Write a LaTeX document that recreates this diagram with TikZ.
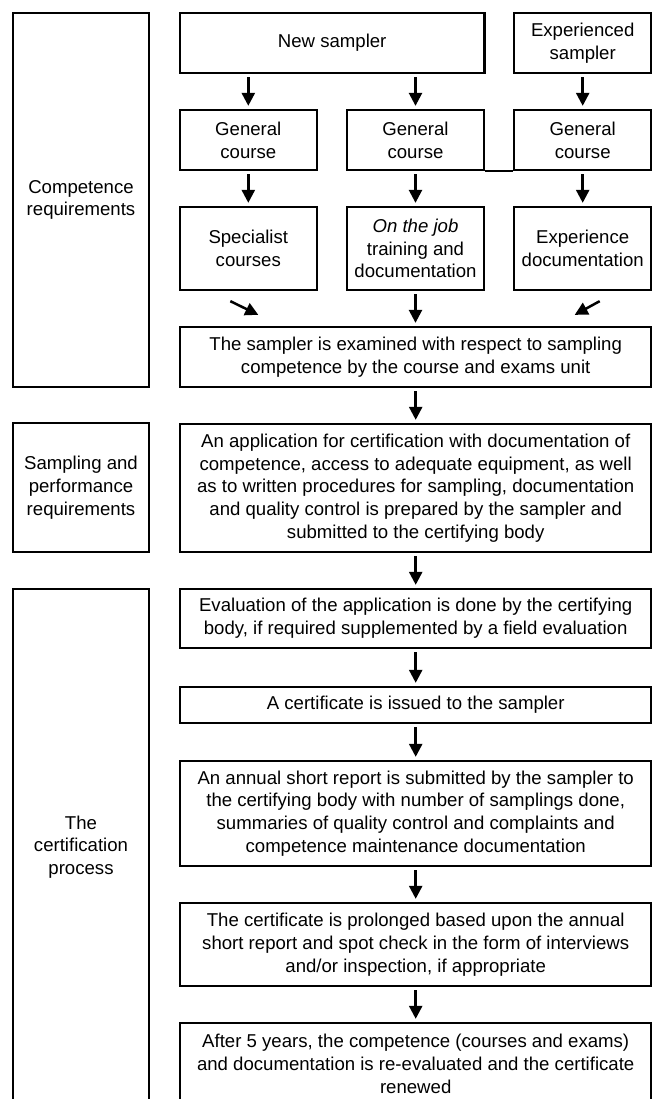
\documentclass[tikz,border=0pt]{standalone}
\usepackage{fontspec}
\setmainfont{Liberation Sans}
\usetikzlibrary{arrows.meta,calc}

\tikzset{
	box/.style={draw, line width=2.3pt, inner sep=0pt, align=center, font=\fontsize{18.6}{22.75}\selectfont},
	side/.style={box, minimum width=136.5pt},
	col/.style={box, minimum width=137pt},
	wide/.style={box, minimum width=471.5pt},
	arr/.style={line width=2.5pt, -{Triangle[width=13pt,length=13pt]}, shorten <=3pt, shorten >=3pt},
}

\begin{document}
\begin{tikzpicture}[x=1pt, y=-1pt]
		%%%%% START %%%%%
		\useasboundingbox (0, 0) rectangle (652, 1099);
		\clip (0, 0) rectangle (652, 1099);
		
		% left column
		\node[side, minimum height=374pt] (comp) at (81, 200) {Competence\\requirements};
		\node[side, minimum height=129pt] (samp) at (81, 487.5) {Sampling and\\performance\\requirements};
		\node[side, minimum height=516pt] (certp) at (81, 847) {The\\certification\\process};
		
		% top part
		\node[box, minimum width=304.5pt, minimum height=60pt] (new) at (332.2, 43) {New sampler};
		\node[col, minimum height=60pt] (exp) at (582.7, 43) {Experienced\\sampler};
		
		\node[col, minimum height=60pt] (gen1) at (248.3, 140) {General\\course};
		\node[col, minimum height=60pt] (gen2) at (415.5, 140) {General\\course};
		\node[col, minimum height=60pt] (gen3) at (582.7, 140) {General\\course};
		\draw[line width=2.3pt] (gen2.south east) -- (gen3.south west);
		
		\node[col, minimum height=83pt] (spec) at (248.3, 248.5) {Specialist\\courses};
		\node[col, minimum height=83pt] (job) at (415.5, 248.5) {\textit{On the job}\\training and\\documentation};
		\node[col, minimum height=83pt] (expdoc) at (582.7, 248.5) {Experience\\documentation};
		
		% main column
		\node[wide, minimum height=60pt] (exam) at (415.7, 357) {The sampler is examined with respect to sampling\\competence by the course and exams unit};
		\node[wide, minimum height=128pt] (app) at (415.7, 488) {An application for certification with documentation of\\competence, access to adequate equipment, as well\\as to written procedures for sampling, documentation\\and quality control is prepared by the sampler and\\submitted to the certifying body};
		\node[wide, minimum height=59pt] (eval) at (415.7, 618.5) {Evaluation of the application is done by the certifying\\body, if required supplemented by a field evaluation};
		\node[wide, minimum height=36pt] (issue) at (415.7, 705) {A certificate is issued to the sampler};
		\node[wide, minimum height=105pt] (annual) at (415.7, 813.5) {An annual short report is submitted by the sampler to\\the certifying body with number of samplings done,\\summaries of quality control and complaints and\\competence maintenance documentation};
		\node[wide, minimum height=83pt] (prolong) at (415.7, 944.5) {The certificate is prolonged based upon the annual\\short report and spot check in the form of interviews\\and/or inspection, if appropriate};
		\node[wide, minimum height=82pt] (after) at (415.7, 1064) {After 5 years, the competence (courses and exams)\\and documentation is re-evaluated and the certificate\\renewed};
		
		% arrows
		\draw[arr] (new.south -| gen1) -- (gen1.north);
		\draw[arr] (new.south -| gen2) -- (gen2.north);
		\draw[arr] (exp.south) -- (gen3.north);
		\draw[arr] (gen1.south) -- (spec.north);
		\draw[arr] (gen2.south) -- (job.north);
		\draw[arr] (gen3.south) -- (expdoc.north);
		\draw[arr] (job.south) -- (exam.north -| job);
		
		\coordinate (d1) at ($(spec.south)+(-18, 10)$);
		\coordinate (d2) at ($(exam.north -| spec)+(10, -11)$);
		\coordinate (d3) at ($(expdoc.south)+(17, 10)$);
		\coordinate (d4) at ($(exam.north -| expdoc)+(-8, -11)$);
		\draw[arr, shorten <=0pt, shorten >=0pt] (d1) -- (d2);
		\draw[arr, shorten <=0pt, shorten >=0pt] (d3) -- (d4);
		
		\draw[arr] (exam.south) -- (app.north);
		\draw[arr] (app.south) -- (eval.north);
		\draw[arr] (eval.south) -- (issue.north);
		\draw[arr] (issue.south) -- (annual.north);
		\draw[arr] (annual.south) -- (prolong.north);
		\draw[arr] (prolong.south) -- (after.north);
		%%%%% END %%%%%
\end{tikzpicture}
\end{document}
